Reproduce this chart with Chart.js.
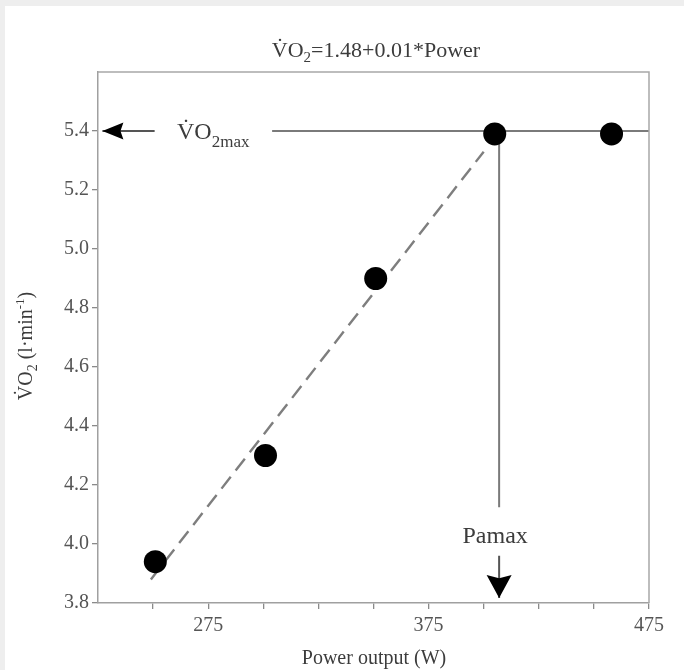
<!DOCTYPE html>
<html>
<head>
<meta charset="utf-8">
<script src="https://cdn.jsdelivr.net/npm/chart.js@4"></script>
<style>
  html, body { margin: 0; padding: 0; background: #eeeeee; }
  canvas { display: block; }
</style>
</head>
<body>
<canvas id="vo2Chart" width="684" height="670"></canvas>
<script>
// measured points
const powerW = [251, 301, 351, 405, 458];
const vo2 = [3.94, 4.30, 4.90, 5.39, 5.39];

// regression line (dashed)
const fitX = [249, 400];
const fitY = [3.88, 5.33];

// VO2max level and Pamax marker
const vo2maxLevel = 5.4;
const vo2maxLineX = [304, 475];
const vo2maxArrowX = [250.7, 227];
const pamaxX = 407;
const pamaxLineY = [5.4, 4.125];
const pamaxArrowY = [3.96, 3.817];

// axes
const xTicks = [250, 275, 300, 325, 350, 375, 400, 425, 450, 475];
const xLabelled = [275, 375, 475];
const yTicks = [3.8, 4.0, 4.2, 4.4, 4.6, 4.8, 5.0, 5.2, 5.4];

const FONT = '"Liberation Serif", "DejaVu Serif", serif';
const TEXT = '#3c3c3c';
const LINE = '#7a7a7a';

function drawRich(ctx, parts, x, y, align) {
  let w = 0;
  parts.forEach(p => {
    ctx.font = `${p.size}px ${FONT}`;
    p.w = ctx.measureText(p.t).width;
    w += p.w;
  });
  let cx = align === 'center' ? x - w / 2 : x;
  ctx.textAlign = 'left';
  ctx.textBaseline = 'alphabetic';
  parts.forEach(p => {
    ctx.font = `${p.size}px ${FONT}`;
    ctx.fillText(p.t, cx, y + (p.dy || 0));
    cx += p.w;
  });
}

function arrowHead(ctx, tx, ty, dx, dy, len, half) {
  // dx,dy = unit direction the arrow points to
  const bx = tx - dx * len, by = ty - dy * len;
  const nx = -dy, ny = dx;
  ctx.beginPath();
  ctx.moveTo(tx, ty);
  ctx.lineTo(bx + nx * half, by + ny * half);
  ctx.lineTo(tx - dx * len * 0.86, ty - dy * len * 0.86);
  ctx.lineTo(bx - nx * half, by - ny * half);
  ctx.closePath();
  ctx.fillStyle = '#000';
  ctx.fill();
}

const decorPlugin = {
  id: 'decor',
  beforeDraw(chart) {
    const ctx = chart.ctx;
    ctx.save();
    ctx.fillStyle = '#eeeeee';
    ctx.fillRect(0, 0, chart.width, chart.height);
    ctx.fillStyle = '#ffffff';
    ctx.fillRect(5, 6, chart.width - 5, chart.height - 6);
    ctx.restore();
  },
  afterDatasetsDraw(chart) {
    const ctx = chart.ctx;
    const { left, right, top, bottom } = chart.chartArea;
    const xs = chart.scales.x, ys = chart.scales.y;
    ctx.save();

    // top and right frame
    ctx.strokeStyle = '#a8a8a8';
    ctx.lineWidth = 1.5;
    ctx.beginPath();
    ctx.moveTo(left, top);
    ctx.lineTo(right, top);
    ctx.lineTo(right, bottom);
    ctx.stroke();

    // arrowheads
    const ay = ys.getPixelForValue(vo2maxLevel);
    arrowHead(ctx, xs.getPixelForValue(vo2maxArrowX[1]), ay, -1, 0, 21, 8.5);
    const px = xs.getPixelForValue(pamaxX);
    arrowHead(ctx, px, ys.getPixelForValue(pamaxArrowY[1]), 0, 1, 23, 12.5);

    ctx.fillStyle = TEXT;
    // VO2max label
    drawRich(ctx, [
      { t: 'V\u0307O', size: 24 },
      { t: '2max', size: 17, dy: 8 }
    ], 177, ay + 8, 'left');

    // Pamax label
    drawRich(ctx, [{ t: 'Pamax', size: 24 }], px - 4, 543, 'center');

    // title
    drawRich(ctx, [
      { t: 'V\u0307O', size: 22 },
      { t: '2', size: 15, dy: 5 },
      { t: '=1.48+0.01*Power', size: 22 }
    ], 376, 57, 'center');

    // x axis title
    drawRich(ctx, [{ t: 'Power output (W)', size: 20 }], 374, 664, 'center');

    // y axis title
    ctx.translate(32, 346);
    ctx.rotate(-Math.PI / 2);
    drawRich(ctx, [
      { t: 'V\u0307O', size: 20 },
      { t: '2', size: 14, dy: 5 },
      { t: ' (l\u00b7min', size: 20 },
      { t: '-1', size: 13, dy: -8 },
      { t: ')', size: 20 }
    ], 0, 0, 'center');

    ctx.restore();
  }
};

new Chart(document.getElementById('vo2Chart'), {
  type: 'scatter',
  data: {
    datasets: [
      {
        label: 'VO2',
        data: powerW.map((x, i) => ({ x, y: vo2[i] })),
        pointRadius: 11.5,
        pointBackgroundColor: '#000',
        pointBorderWidth: 0,
        showLine: false
      },
      {
        label: 'fit',
        data: fitX.map((x, i) => ({ x, y: fitY[i] })),
        showLine: true,
        borderColor: '#7e7e7e',
        borderWidth: 2.4,
        borderDash: [15, 8],
        pointRadius: 0
      },
      {
        label: 'vo2max',
        data: vo2maxLineX.map(x => ({ x, y: vo2maxLevel })),
        showLine: true,
        borderColor: LINE,
        borderWidth: 2,
        pointRadius: 0
      },
      {
        label: 'vo2maxArrow',
        data: vo2maxArrowX.map(x => ({ x, y: vo2maxLevel })),
        showLine: true,
        borderColor: '#555',
        borderWidth: 2,
        pointRadius: 0
      },
      {
        label: 'pamax',
        data: pamaxLineY.map(y => ({ x: pamaxX, y })),
        showLine: true,
        borderColor: LINE,
        borderWidth: 2,
        pointRadius: 0
      },
      {
        label: 'pamaxArrow',
        data: pamaxArrowY.map(y => ({ x: pamaxX, y })),
        showLine: true,
        borderColor: '#555',
        borderWidth: 2,
        pointRadius: 0
      }
    ]
  },
  options: {
    responsive: false,
    animation: false,
    layout: { padding: { left: 0, top: 72, right: 35, bottom: 0 } },
    plugins: {
      legend: { display: false },
      tooltip: { enabled: false },
      title: { display: false }
    },
    scales: {
      x: {
        type: 'linear',
        min: 225,
        max: 475,
        afterFit(scale) { scale.height = 67; },
        afterBuildTicks(scale) { scale.ticks = xTicks.map(v => ({ value: v })); },
        ticks: {
          autoSkip: false,
          maxRotation: 0,
          padding: 5,
          color: '#555',
          font: { family: FONT, size: 20 },
          callback: v => xLabelled.includes(v) ? String(v) : ''
        },
        grid: { drawOnChartArea: false, tickLength: 6, color: '#8a8a8a', lineWidth: 1.3 },
        border: { color: '#a0a0a0', width: 1.5 }
      },
      y: {
        type: 'linear',
        min: 3.8,
        max: 5.6,
        afterFit(scale) { scale.width = 98; },
        afterBuildTicks(scale) { scale.ticks = yTicks.map(v => ({ value: v })); },
        ticks: {
          autoSkip: false,
          padding: 3,
          color: '#555',
          font: { family: FONT, size: 20 },
          callback: v => Number(v).toFixed(1)
        },
        grid: { drawOnChartArea: false, tickLength: 6, color: '#8a8a8a', lineWidth: 1.3 },
        border: { color: '#a0a0a0', width: 1.5 }
      }
    }
  },
  plugins: [decorPlugin]
});
</script>
</body>
</html>
